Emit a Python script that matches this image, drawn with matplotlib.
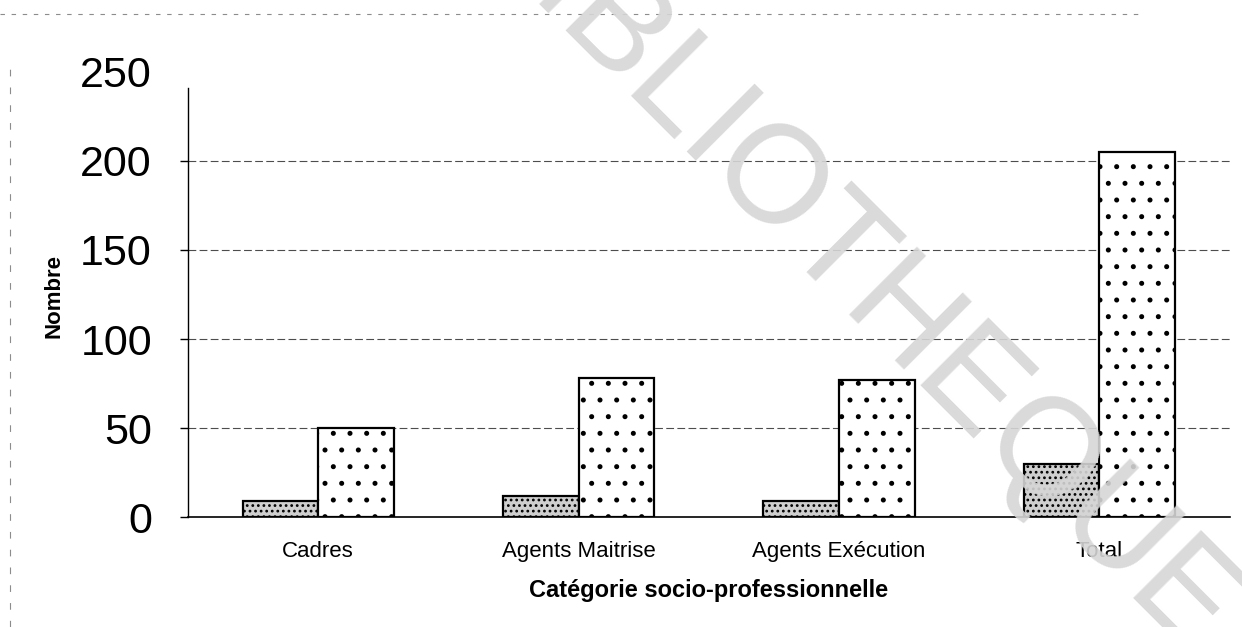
import numpy as np
import matplotlib
matplotlib.use('Agg')
from matplotlib import pyplot as plt
from matplotlib.lines import Line2D

# data
categories = ['Cadres', 'Agents Maitrise', 'Agents Exécution', 'Total']
serie_1 = [9, 12, 9, 30]
serie_2 = [50, 78, 77, 205]
yticks = [0, 50, 100, 150, 200, 250]

plt.rcParams['font.family'] = ['Liberation Sans', 'DejaVu Sans']
plt.rcParams['hatch.linewidth'] = 1.2

fig = plt.figure(figsize=(12.42, 6.27), dpi=100)
ax = fig.add_axes([0.1514, 0.1754, 0.8386, 0.7098])

x = np.arange(len(categories))
w = 0.29
ax.bar(x - w / 2, serie_1, w, facecolor='#cfcfcf', edgecolor='black',
       linewidth=1.6, hatch='...', zorder=3)
ax.bar(x + w / 2, serie_2, w, facecolor='white', edgecolor='black',
       linewidth=1.6, hatch='.', zorder=3)

ax.set_xlim(-0.5, len(categories) - 0.5)
ax.set_ylim(0, 250)
ax.set_yticks(yticks)
ax.set_yticklabels([str(v) for v in yticks], fontsize=31)
ax.tick_params(axis='y', length=6, width=1, pad=20)
ax.yaxis.get_major_ticks()[-1].tick1line.set_visible(False)
ax.set_xticks(x)
ax.set_xticklabels(categories, fontsize=16)
ax.tick_params(axis='x', length=0, pad=17)

for y in yticks[1:-1]:
    ax.axhline(y, color='0.3', linewidth=0.8, linestyle=(0, (7, 3)), zorder=1)

for s in ['top', 'right']:
    ax.spines[s].set_visible(False)
ax.spines['left'].set_bounds(0, 241)
ax.spines['left'].set_linewidth(1)
ax.spines['bottom'].set_linewidth(1.2)

fig.text(709 / 1242, 1 - 591 / 627, 'Catégorie socio-professionnelle',
         ha='center', va='center', fontsize=17, fontweight='bold')
fig.text(54 / 1242, 1 - 296 / 627, 'Nombre', ha='center', va='center',
         rotation=90, fontsize=16, fontweight='bold')

# faint frame from the scan
fig.add_artist(Line2D([0.0, 0.92], [1 - 14 / 627, 1 - 14 / 627],
                      transform=fig.transFigure, color='0.55', linewidth=0.8,
                      linestyle=(0, (4, 6))))
fig.add_artist(Line2D([10 / 1242, 10 / 1242], [0.0, 1 - 60 / 627],
                      transform=fig.transFigure, color='0.55', linewidth=0.8,
                      linestyle=(0, (6, 10))))

# watermark
fig.text(0.684, 0.561, 'BIBLIOTHEQUE', ha='center', va='center',
         rotation=-45, rotation_mode='anchor', fontsize=100,
         color='#d6d6d6', alpha=0.9, zorder=10)

fig.savefig('out.png', dpi=100)
